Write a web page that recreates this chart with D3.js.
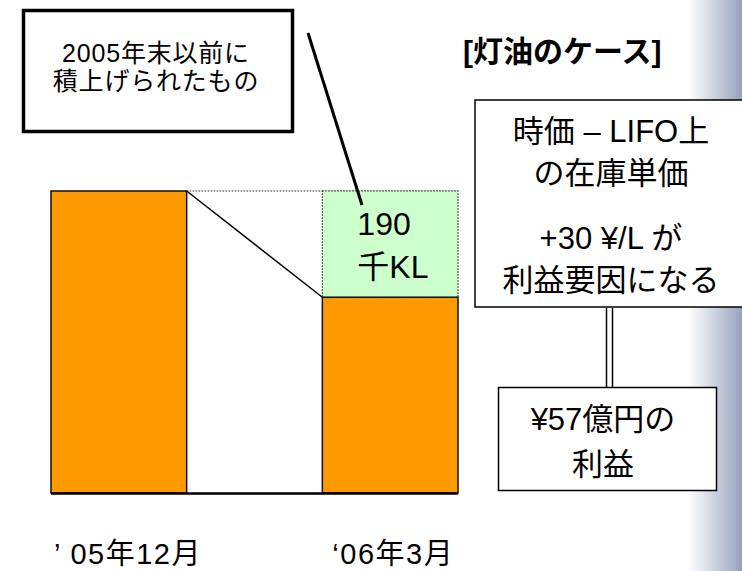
<!DOCTYPE html>
<html>
<head>
<meta charset="utf-8">
<script src="https://cdn.jsdelivr.net/npm/d3@7"></script>
<style>
  html, body { margin: 0; padding: 0; background: #fff; }
  svg { display: block; font-family: "Liberation Sans", Arial, "Noto Sans CJK JP", sans-serif; }
</style>
</head>
<body>
<div id="chart"></div>
<script>
// inventory volume (thousand KL)
const periods = ['’05年12月', '‘06年3月'];
const inventory = [540, 350];
const drawdown = 190;            // layer consumed between the two dates
const title = '[灯油のケース]';
const noteLines = ['2005年末以前に', '積上げられたもの'];
const drawdownLines = ['190', '千KL'];
const priceLines = ['時価 – LIFO上', 'の在庫単価', '+30 ¥/L が', '利益要因になる'];
const profitLines = ['¥57億円の', '利益'];

const W = 742, H = 571;
const svg = d3.select('#chart').append('svg').attr('width', W).attr('height', H);

// grey-blue slide edge on the right
const grad = svg.append('defs').append('linearGradient').attr('id', 'edge');
grad.append('stop').attr('offset', '0%').attr('stop-color', '#ffffff');
grad.append('stop').attr('offset', '100%').attr('stop-color', '#97a3bd');
svg.append('rect').attr('x', 688).attr('y', 0).attr('width', 54).attr('height', H).attr('fill', 'url(#edge)');

const x = d3.scaleBand().domain(periods).range([51, 458]).paddingInner(0.5).paddingOuter(0);
const y = d3.scaleLinear().domain([0, inventory[0]]).range([493, 191]);
const bw = x.bandwidth();

// dotted top line and the green drawdown block
const x0 = x(periods[0]), x1 = x(periods[1]);
svg.append('line')
  .attr('x1', x0 + bw).attr('x2', x1 + bw)
  .attr('y1', y(inventory[0])).attr('y2', y(inventory[0]))
  .attr('stroke', '#222').attr('stroke-width', 1.2).attr('stroke-dasharray', '1.5,1.5');
svg.append('rect')
  .attr('x', x1).attr('y', y(inventory[1] + drawdown))
  .attr('width', bw).attr('height', y(inventory[1]) - y(inventory[1] + drawdown))
  .attr('fill', '#ccffcc').attr('stroke', '#222').attr('stroke-width', 1.2)
  .attr('stroke-dasharray', '1.5,1.5');

// orange bars
svg.selectAll('rect.bar')
  .data(inventory)
  .enter()
  .append('rect')
  .attr('class', 'bar')
  .attr('x', (d, i) => x(periods[i]))
  .attr('y', d => y(d))
  .attr('width', bw)
  .attr('height', d => y(0) - y(d))
  .attr('fill', '#ff9900')
  .attr('stroke', '#111')
  .attr('stroke-width', 1.5);

// diagonal joining the bar tops
svg.append('line')
  .attr('x1', x0 + bw).attr('y1', y(inventory[0]))
  .attr('x2', x1).attr('y2', y(inventory[1]))
  .attr('stroke', '#000').attr('stroke-width', 1.5);

// baseline
svg.append('line')
  .attr('x1', x0).attr('x2', x1 + bw)
  .attr('y1', y(0) + 0.5).attr('y2', y(0) + 0.5)
  .attr('stroke', '#000').attr('stroke-width', 2.5);

// period labels
svg.selectAll('text.period')
  .data(periods)
  .enter()
  .append('text')
  .attr('class', 'period')
  .attr('x', (d, i) => x(d) + (i === 0 ? 3 : 10))
  .attr('y', 564)
  .attr('font-size', 29)
  .attr('letter-spacing', 1.5)
  .text(d => d.replace('’05', '’ 05'));

// drawdown label
svg.selectAll('text.dd')
  .data(drawdownLines)
  .enter()
  .append('text')
  .attr('class', 'dd')
  .attr('x', x1 + 35)
  .attr('y', (d, i) => 235 + i * 43)
  .attr('font-size', 32)
  .text(d => d);

// note box + callout
svg.append('rect').attr('x', 23.5).attr('y', 10.5).attr('width', 269).attr('height', 121)
  .attr('fill', '#fff').attr('stroke', '#000').attr('stroke-width', 3.5);
svg.selectAll('text.note')
  .data(noteLines)
  .enter()
  .append('text')
  .attr('class', 'note')
  .attr('x', 156).attr('y', (d, i) => 62 + i * 28)
  .attr('text-anchor', 'middle').attr('font-size', 25)
  .attr('letter-spacing', 0.8)
  .text(d => d);
svg.append('line').attr('x1', 308).attr('y1', 33).attr('x2', 362).attr('y2', 205)
  .attr('stroke', '#000').attr('stroke-width', 3);

// title
svg.append('text').attr('x', 463).attr('y', 62).attr('font-size', 30).attr('font-weight', 'bold')
  .text(title);

// price difference box
svg.append('rect').attr('x', 475).attr('y', 100).attr('width', 290).attr('height', 207)
  .attr('fill', '#fff').attr('stroke', '#000').attr('stroke-width', 1.5);
svg.selectAll('text.price')
  .data(priceLines)
  .enter()
  .append('text')
  .attr('class', 'price')
  .attr('x', 611).attr('y', (d, i) => [142, 184, 249, 291][i])
  .attr('text-anchor', 'middle').attr('font-size', 31)
  .text(d => d);

// double connector
[606.5, 612.5].forEach(cx => {
  svg.append('line').attr('x1', cx).attr('x2', cx).attr('y1', 308).attr('y2', 387)
    .attr('stroke', '#000').attr('stroke-width', 1.5);
});

// profit box
svg.append('rect').attr('x', 498.5).attr('y', 387.5).attr('width', 218).attr('height', 103)
  .attr('fill', '#fff').attr('stroke', '#000').attr('stroke-width', 1.5);
svg.selectAll('text.profit')
  .data(profitLines)
  .enter()
  .append('text')
  .attr('class', 'profit')
  .attr('x', 603).attr('y', (d, i) => 430 + i * 45)
  .attr('text-anchor', 'middle').attr('font-size', 31)
  .text(d => d);
</script>
</body>
</html>
